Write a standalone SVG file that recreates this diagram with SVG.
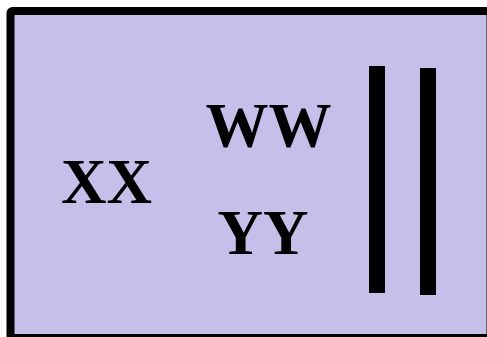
<svg xmlns="http://www.w3.org/2000/svg" width="487" height="337" viewBox="0 0 487 337">
<style>
.lbl{font-family:"Liberation Serif","Times New Roman",serif;font-weight:bold;font-size:63px;fill:#000;text-anchor:middle}
.bar{fill:#000}
</style>
<rect width="487" height="337" fill="#fff"/>
<g id="frame">
<rect x="10.5" y="11" width="480" height="327" rx="2" fill="#C5C0EA" stroke="#000" stroke-width="8"/>
</g>
<g id="xx"><text class="lbl" x="106.5" y="203">XX</text></g>
<g id="ww"><text class="lbl" x="268.5" y="146.5">WW</text></g>
<g id="yy"><text class="lbl" x="263" y="254">YY</text></g>
<g id="bar1"><rect class="bar" x="369" y="66" width="16" height="227"/></g>
<g id="bar2"><rect class="bar" x="420" y="68" width="16" height="227"/></g>
</svg>
